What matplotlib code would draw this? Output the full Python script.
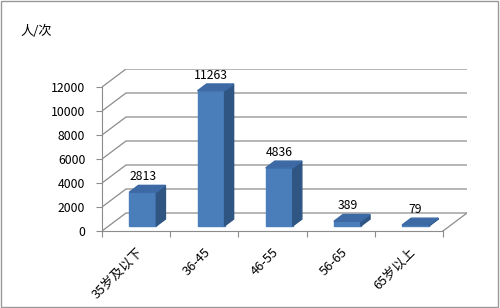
import matplotlib.pyplot as plt
from matplotlib.patches import Rectangle

plt.rcParams['font.family'] = ['Noto Sans CJK SC', 'DejaVu Sans']

categories = ['35岁及以下', '36-45', '46-55', '56-65', '65岁以上']
values = [2813, 11263, 4836, 389, 79]
yticks = [0, 2000, 4000, 6000, 8000, 10000, 12000]
unit_label = '人/次'

# oblique "3D" look: one depth unit moves this much in (category, value) units
DX, DY = 0.352, 1500
bar_w = 0.396
d_front, d_back = 0.28, 0.66

front_c = '#4a7ebb'
side_c = '#2f5583'
top_c = '#3d6aa5'
grid_c = '#8c8c8c'

fig = plt.figure(figsize=(5, 3.08), dpi=100)
fig.patches.append(Rectangle((0.002, 0.003), 0.994, 0.994, transform=fig.transFigure,
                             fill=False, edgecolor='#999999', lw=1))
fig.text(0.072, 0.898, unit_label, fontsize=9.5, ha='center', va='center')

ax = fig.add_axes([0.204, 0.25, 0.73, 0.526])
n = len(categories)
x0, x1 = -0.5, n - 0.5
ax.set_xlim(x0, x1 + DX)
ax.set_ylim(0, 12000 + DY)

# walls, floor and gridlines
for t in yticks:
    ax.plot([x0, x0 + DX, x1 + DX], [t, t + DY, t + DY], color=grid_c, lw=0.9, zorder=1)
ax.plot([x1, x1 + DX], [0, DY], color=grid_c, lw=0.9, zorder=1)

# bars
for i, v in enumerate(values):
    fx0 = i - bar_w / 2 + d_front * DX
    fx1 = i + bar_w / 2 + d_front * DX
    fy0 = d_front * DY
    ox = (d_back - d_front) * DX
    oy = (d_back - d_front) * DY
    top = v + fy0
    ax.fill([fx0, fx1, fx1, fx0], [fy0, fy0, top, top], color=front_c, zorder=3)
    ax.fill([fx1, fx1 + ox, fx1 + ox, fx1], [fy0, fy0 + oy, top + oy, top],
            color=side_c, zorder=3)
    ax.fill([fx0, fx1, fx1 + ox, fx0 + ox], [top, top, top + oy, top + oy],
            color=top_c, zorder=3)
    ax.text((fx0 + fx1) / 2, top + oy + 200, str(v), ha='center', va='bottom',
            fontsize=8.8, zorder=4)

for s in ['top', 'right']:
    ax.spines[s].set_visible(False)
ax.spines['left'].set_bounds(0, 12000)
ax.spines['bottom'].set_bounds(x0, x1)
for s in ['left', 'bottom']:
    ax.spines[s].set_color(grid_c)

ax.set_yticks(yticks)
ax.set_yticklabels([str(t) for t in yticks], fontsize=8.8)
ax.set_xticks([x0 + k for k in range(n + 1)])
ax.set_xticklabels([])
ax.set_xticks(range(n), minor=True)
ax.set_xticklabels(categories, minor=True, rotation=45, ha='right',
                   rotation_mode='anchor', fontsize=9.3)
ax.tick_params(axis='x', which='minor', length=0, pad=10.5)
ax.tick_params(axis='y', which='major', pad=8)
ax.tick_params(axis='both', which='major', length=4, color=grid_c)

fig.savefig('out.png', dpi=100)
